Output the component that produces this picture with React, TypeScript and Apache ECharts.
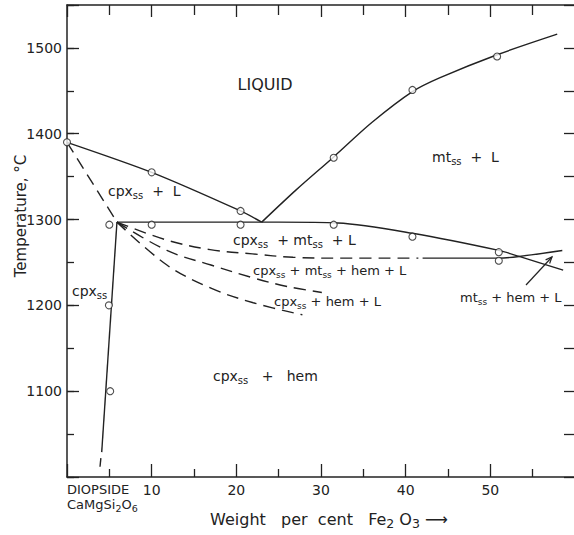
import { useEffect, useRef } from "react";
import * as echarts from "echarts";

const FONT = "DejaVu Sans";
const INK = "#222";

// ---- axis tick labels ----
const xTickValues = [10, 20, 30, 40, 50];
const xOriginLabel = "{n|DIOPSIDE}\n{n|CaMgSi}{s|2}{n|O}{s|6}";
const yTickLabels = [1100, 1200, 1300, 1400, 1500];

// ---- phase boundaries (wt% Fe2O3, °C) ----
const cpxLiquidus = [[0, 1390], [10, 1355], [20.5, 1310], [23, 1297]];
const mtLiquidus = [[23, 1297], [27, 1334], [31.5, 1373], [36, 1413], [40.8, 1449], [44, 1465], [50.8, 1492], [57.9, 1516]];
const cpxSolidus = [[0, 1390], [5.9, 1297]];
const cpxMtLBase = [[5.9, 1297], [25, 1297], [32, 1296], [40.8, 1284], [51, 1264], [53.4, 1257], [58.6, 1241]];
const hemInDashed = [[5.9, 1297], [11.8, 1276], [16.9, 1265], [21.9, 1260], [26.7, 1256], [32, 1255], [41.5, 1255]];
const hemInSolid = [[42, 1255], [51, 1255], [53.4, 1257], [58.5, 1264]];
const mtOutDashed = [[5.9, 1297], [11.8, 1264], [17, 1247], [22, 1232], [26, 1222], [30.1, 1215]];
const solidusDashed = [[5.9, 1297], [11.8, 1247], [17, 1220], [22, 1203], [27.8, 1189]];
const cpxSolvus = [[5.9, 1297], [4.1, 1029]];
const cpxSolvusTail = [[4.0, 1022], [3.9, 1012]];

// ---- experimental points ----
const experiments = [
  [0, 1390], [10, 1355], [20.5, 1310],
  [31.5, 1372], [40.8, 1451], [50.8, 1490],
  [5, 1294], [10, 1294], [20.5, 1294], [31.5, 1294],
  [40.8, 1280], [51, 1262], [51, 1252],
  [4.95, 1200], [5.1, 1100],
];

// ---- field labels ----
const fieldLabels: { text: string; x: number; y: number; size: number; align?: string }[] = [
  { text: "LIQUID", x: 265, y: 84, size: 16, align: "center" },
  { text: "mt_{ss}  +  L", x: 432, y: 157, size: 14 },
  { text: "cpx_{ss}  +  L", x: 108, y: 191, size: 14 },
  { text: "cpx_{ss}  + mt_{ss}  + L", x: 233, y: 240, size: 14 },
  { text: "cpx_{ss} + mt_{ss} + hem + L", x: 253, y: 270, size: 13 },
  { text: "cpx_{ss} + hem + L", x: 274, y: 301, size: 13 },
  { text: "mt_{ss} + hem + L", x: 460, y: 297, size: 13 },
  { text: "cpx_{ss}", x: 72, y: 291, size: 14 },
  { text: "cpx_{ss}   +   hem", x: 213, y: 376, size: 14 },
];

function toRich(t: string) {
  const out: string[] = [];
  const re = /_\{([^}]*)\}/g;
  let last = 0;
  let m: RegExpExecArray | null;
  while ((m = re.exec(t))) {
    if (m.index > last) out.push(`{n|${t.slice(last, m.index)}}`);
    out.push(`{s|${m[1]}}`);
    last = m.index + m[0].length;
  }
  if (last < t.length) out.push(`{n|${t.slice(last)}}`);
  return out.join("");
}

const richZr = (size: number) => ({
  n: { fontSize: size, fontFamily: FONT, fill: INK },
  s: { fontSize: size - 4, fontFamily: FONT, fill: INK, padding: [9, 0, 0, 0] },
});
const richEc = (size: number) => ({
  n: { fontSize: size, fontFamily: FONT, color: INK },
  s: { fontSize: size - 3.5, fontFamily: FONT, color: INK, padding: [8, 0, 0, 0] },
});

export default function App() {
  const ref = useRef<HTMLDivElement>(null);
  useEffect(() => {
    const chart = echarts.init(ref.current!, null, { renderer: "svg" });

    const line = (data: number[][], dashed: boolean, smooth: number | boolean = false) => ({
      type: "line",
      data,
      smooth,
      showSymbol: false,
      silent: true,
      lineStyle: { color: INK, width: 1.4, type: dashed ? [12, 7] : "solid" },
      z: 3,
    });

    // arrow for mt + hem + L
    const a0 = [526, 285];
    const a1 = [552, 257];
    const dx = a1[0] - a0[0], dy = a1[1] - a0[1];
    const len = Math.hypot(dx, dy);
    const ux = dx / len, uy = dy / len;
    const wing = (ang: number) => {
      const c = Math.cos(ang), s = Math.sin(ang);
      const rx = -(ux * c - uy * s), ry = -(ux * s + uy * c);
      return [a1[0] + rx * 7, a1[1] + ry * 7];
    };

    const graphics: any[] = fieldLabels.map((l) => ({
      type: "text",
      x: l.x,
      y: l.y,
      silent: true,
      style: {
        text: toRich(l.text),
        rich: richZr(l.size),
        fontSize: l.size,
        fontFamily: FONT,
        fill: INK,
        align: l.align || "left",
        verticalAlign: "middle",
      },
    }));
    graphics.push({
      type: "line",
      silent: true,
      shape: { x1: a0[0], y1: a0[1], x2: a1[0], y2: a1[1] },
      style: { stroke: INK, lineWidth: 1.2 },
    });
    graphics.push({
      type: "polyline",
      silent: true,
      shape: { points: [wing(0.4), a1, wing(-0.4)] },
      style: { stroke: INK, lineWidth: 1.2, fill: "none" },
    });

    const axisLineStyle = { color: INK, width: 1.5 };
    const tickStyle = { color: INK, width: 1.3 };

    chart.setOption({
      animation: false,
      backgroundColor: "#fff",
      grid: { left: 67, right: -1, top: 5, bottom: 58, containLabel: false, outerBoundsMode: "none" },
      xAxis: [
        {
          type: "value",
          min: 0,
          max: 60,
          interval: 10,
          position: "bottom",
          axisLine: { show: true, lineStyle: axisLineStyle },
          axisTick: { show: true, inside: true, length: 13, lineStyle: tickStyle },
          minorTick: { show: true, splitNumber: 2, length: 8, lineStyle: tickStyle },
          splitLine: { show: false },
          axisLabel: {
            show: true,
            margin: 5,
            fontSize: 14,
            fontFamily: FONT,
            color: INK,
            alignMinLabel: "left",
            lineHeight: 15,
            rich: richEc(13),
            formatter: (v: number) =>
              v === 0 ? xOriginLabel : xTickValues.indexOf(v) >= 0 ? `{t|${v}}` : "",
          },
          name: "{n|Weight   per  cent   Fe}{s|2}{n| O}{s|3}{n| ⟶}",
          nameLocation: "middle",
          nameGap: 32,
          nameMoveOverlap: false,
          nameTextStyle: { rich: richEc(16), padding: [0, 0, 0, 16] },
        },
        {
          type: "value",
          min: 0,
          max: 60,
          interval: 10,
          position: "top",
          axisLine: { show: true, lineStyle: axisLineStyle },
          axisTick: { show: true, inside: true, length: 12, lineStyle: tickStyle },
          minorTick: { show: true, splitNumber: 2, length: 10, lineStyle: tickStyle },
          splitLine: { show: false },
          axisLabel: { show: false },
        },
      ],
      yAxis: [
        {
          type: "value",
          min: 1000,
          max: 1550,
          interval: 100,
          position: "left",
          axisLine: { show: true, lineStyle: axisLineStyle },
          axisTick: { show: true, inside: true, length: 12, lineStyle: tickStyle },
          splitLine: { show: false },
          axisLabel: {
            show: true,
            margin: 5,
            fontSize: 14,
            fontFamily: FONT,
            color: INK,
            formatter: (v: number) => (yTickLabels.indexOf(v) >= 0 ? String(v) : ""),
          },
          name: "Temperature, °C",
          nameLocation: "middle",
          nameGap: 39,
          nameMoveOverlap: false,
          nameTextStyle: { fontSize: 15, fontFamily: FONT, color: INK, padding: [0, 0, 0, 50] },
        },
        {
          type: "value",
          min: 1000,
          max: 1550,
          interval: 50,
          position: "left",
          axisLine: { show: false },
          axisTick: { show: true, inside: true, length: 7, lineStyle: tickStyle },
          splitLine: { show: false },
          axisLabel: { show: false },
        },
        {
          type: "value",
          min: 1000,
          max: 1550,
          interval: 50,
          position: "right",
          axisLine: { show: true, lineStyle: axisLineStyle },
          axisTick: { show: true, inside: true, length: 11, lineStyle: tickStyle },
          splitLine: { show: false },
          axisLabel: { show: false },
        },
      ],
      series: [
        line(cpxLiquidus, false, 0.25),
        line(mtLiquidus, false, 0.3),
        line(cpxSolidus, true),
        line(cpxMtLBase, false, 0.3),
        line(hemInDashed, true, 0.35),
        line(hemInSolid, false, 0.3),
        line(mtOutDashed, true, 0.35),
        line(solidusDashed, true, 0.35),
        line(cpxSolvus, false),
        line(cpxSolvusTail, false),
        {
          type: "scatter",
          data: experiments,
          symbol: "circle",
          symbolSize: 7,
          silent: true,
          itemStyle: { color: "#fff", borderColor: INK, borderWidth: 1.1 },
          z: 5,
        },
      ],
      graphic: graphics,
    });

    return () => chart.dispose();
  }, []);

  return (
    <div
      ref={ref}
      style={{ position: "absolute", left: 0, top: 0, width: 574, height: 535, background: "#fff" }}
    />
  );
}
